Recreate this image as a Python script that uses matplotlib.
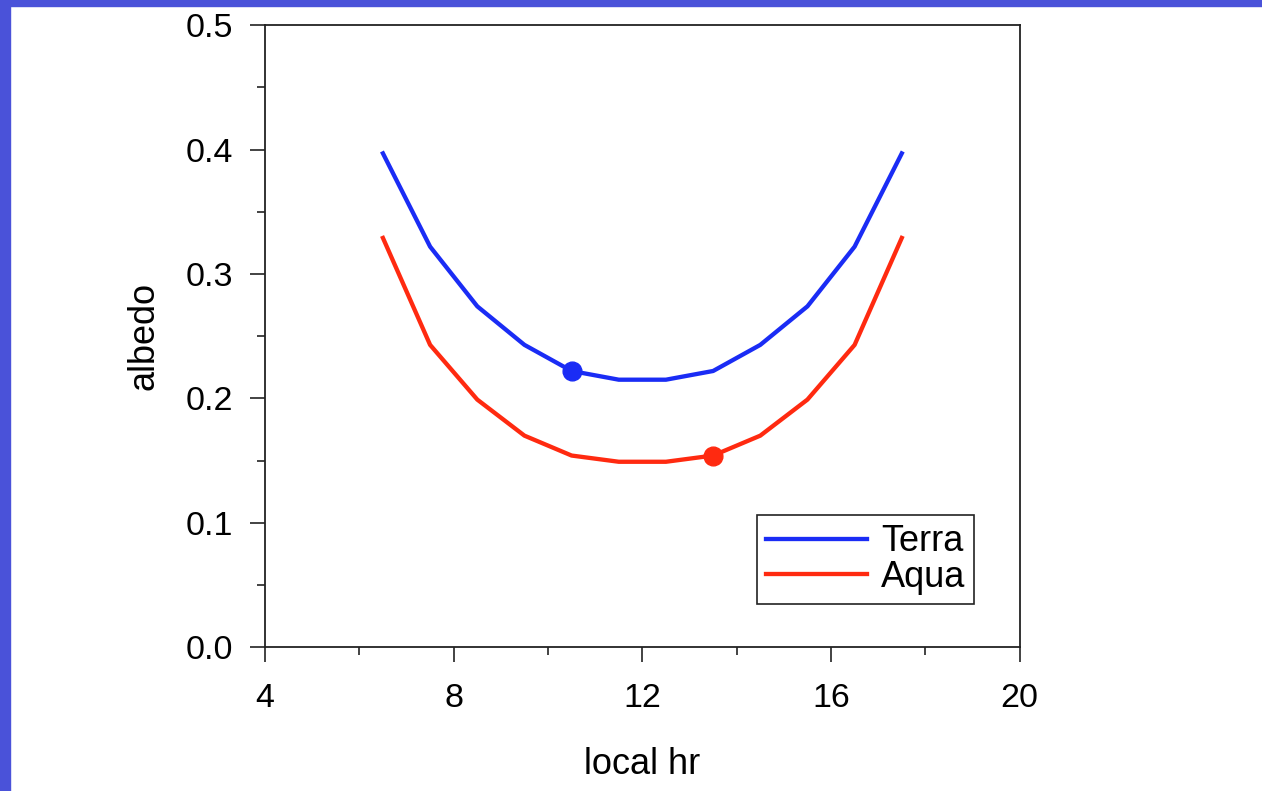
import matplotlib
matplotlib.use('Agg')
import matplotlib.pyplot as plt
from matplotlib.patches import Rectangle
from matplotlib.ticker import MultipleLocator

# values
local_hr = [6.5, 7.5, 8.5, 9.5, 10.5, 11.5, 12.5, 13.5, 14.5, 15.5, 16.5, 17.5]
terra = [0.397, 0.322, 0.274, 0.243, 0.222, 0.215, 0.215, 0.222, 0.243, 0.274, 0.322, 0.397]
aqua = [0.329, 0.243, 0.199, 0.170, 0.154, 0.149, 0.149, 0.154, 0.170, 0.199, 0.243, 0.329]
terra_pass = (10.5, 0.222)
aqua_pass = (13.5, 0.154)

plt.rcParams['font.family'] = ['Liberation Sans', 'DejaVu Sans']

fig = plt.figure(figsize=(12.62, 7.91), dpi=100)
fig.patch.set_facecolor('white')

# slide border
fig.patches.append(Rectangle((0, 0), 0.008, 1, transform=fig.transFigure,
                             color='#4a52d9', zorder=0))
fig.patches.append(Rectangle((0, 0.992), 1, 0.008, transform=fig.transFigure,
                             color='#4a52d9', zorder=0))

ax = fig.add_axes([0.21, 0.182, 0.598, 0.786])

ax.plot(local_hr, terra, color='#1a2cf5', lw=3.1, label='Terra')
ax.plot(local_hr, aqua, color='#ff2a10', lw=3.1, label='Aqua')
ax.plot(*terra_pass, 'o', color='#1a2cf5', ms=13.5)
ax.plot(*aqua_pass, 'o', color='#ff2a10', ms=13.5)

ax.set_xlim(4, 20)
ax.set_ylim(0, 0.5)
ax.xaxis.set_major_locator(MultipleLocator(4))
ax.xaxis.set_minor_locator(MultipleLocator(2))
ax.yaxis.set_major_locator(MultipleLocator(0.1))
ax.yaxis.set_minor_locator(MultipleLocator(0.05))
ax.yaxis.set_major_formatter(plt.FormatStrFormatter('%.1f'))

ax.tick_params(which='major', length=11, width=1.2, labelsize=24.5, color='#222222')
ax.tick_params(which='minor', length=5.5, width=1.2, color='#222222')
ax.tick_params(axis='x', which='major', pad=15)
ax.tick_params(axis='y', which='major', pad=12)
for s in ax.spines.values():
    s.set_linewidth(1.3)
    s.set_color('#222222')

ax.set_xlabel('local hr', fontsize=26, labelpad=24)
ax.set_ylabel('albedo', fontsize=26, labelpad=17)

leg = ax.legend(loc='lower left', bbox_to_anchor=(0.652, 0.069), borderaxespad=0,
                fontsize=26, handlelength=2.8, handletextpad=0.38, labelspacing=0.02,
                borderpad=0.25, fancybox=False, framealpha=1, edgecolor='#222222')
leg.get_frame().set_linewidth(1.2)

fig.savefig('out.png', dpi=100)
